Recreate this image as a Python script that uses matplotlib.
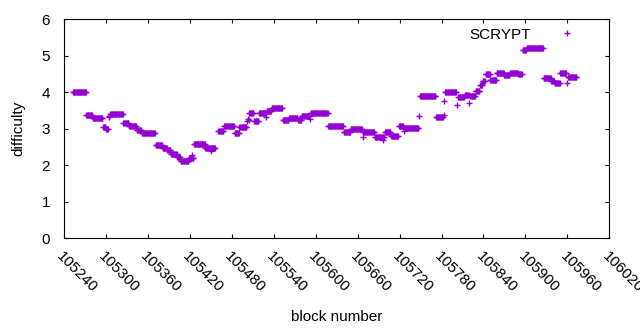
import numpy as np
import matplotlib
matplotlib.use("Agg")
import matplotlib.pyplot as plt

# Runs of consecutive blocks sharing one difficulty value
run_start = [105253, 105272, 105281, 105296, 105300, 105306, 105325, 105333, 105344, 105351,
             105371, 105381, 105388, 105393, 105402, 105407, 105419, 105426, 105442, 105461,
             105469, 105484, 105491, 105505, 105512, 105519, 105530, 105537, 105553, 105562,
             105575, 105580, 105593, 105618, 105640, 105650, 105668, 105685, 105699, 105708,
             105719, 105726, 105749, 105772, 105785, 105804, 105813, 105821, 105829, 105835,
             105839, 105843, 105850, 105859, 105870, 105878, 105890, 105896, 105902, 105927,
             105937, 105942, 105950, 105961]
run_end = [105271, 105280, 105295, 105299, 105303, 105324, 105332, 105343, 105350, 105370,
           105380, 105387, 105392, 105401, 105406, 105418, 105425, 105441, 105456, 105468,
           105483, 105490, 105501, 105511, 105518, 105528, 105536, 105552, 105561, 105574,
           105579, 105591, 105617, 105639, 105649, 105666, 105684, 105698, 105707, 105718,
           105725, 105747, 105771, 105782, 105801, 105812, 105819, 105828, 105834, 105838,
           105842, 105849, 105858, 105869, 105877, 105889, 105895, 105901, 105925, 105936,
           105941, 105949, 105958, 105973]
run_difficulty = [4.00, 3.37, 3.29, 3.06, 2.99, 3.40, 3.15, 3.07, 2.98, 2.88,
                  2.56, 2.48, 2.42, 2.30, 2.22, 2.12, 2.21, 2.58, 2.47, 2.93,
                  3.07, 2.88, 3.04, 3.42, 3.22, 3.42, 3.50, 3.56, 3.23, 3.29,
                  3.25, 3.35, 3.42, 3.07, 2.92, 2.99, 2.91, 2.78, 2.90, 2.80,
                  3.07, 3.01, 3.91, 3.33, 4.00, 3.86, 3.93, 3.89, 4.04, 4.21,
                  4.31, 4.49, 4.33, 4.54, 4.47, 4.52, 4.49, 5.16, 5.21, 4.40,
                  4.32, 4.26, 4.52, 4.41]

# Isolated blocks
single_block = [105304, 105305, 105420, 105423, 105450, 105502, 105503, 105504, 105529,
                105592, 105667, 105697, 105727, 105748, 105783, 105784, 105802, 105820,
                105926, 105960]
single_difficulty = [3.31, 3.35, 2.16, 2.27, 2.40, 3.20, 3.26, 3.24, 3.31,
                     3.27, 2.78, 2.68, 2.95, 3.34, 3.37, 3.75, 3.64, 3.72,
                     4.38, 4.26]

x_ticks = list(range(105240, 106021, 60))
y_ticks = [0, 1, 2, 3, 4, 5, 6]

blocks = []
diffs = []
for s, e, d in zip(run_start, run_end, run_difficulty):
    for b in range(s, e + 1):
        blocks.append(b)
        diffs.append(d)
blocks += single_block
diffs += single_difficulty

plt.rcParams['font.family'] = ['Liberation Sans', 'DejaVu Sans']
purple = '#9400D3'
fs = 11

fig = plt.figure(figsize=(6.4, 3.3), dpi=100)
ax = fig.add_axes([0.1, 0.278, 0.852, 0.6635])

ax.plot(blocks, diffs, linestyle='none', marker='+', markersize=5, markeredgewidth=1.0,
        color=purple, label='SCRYPT')

ax.set_xlim(105240, 106020)
ax.set_ylim(0, 6)
ax.set_xticks(x_ticks)
ax.set_xticklabels([str(t) for t in x_ticks], rotation=-45, ha='left', va='top',
                   rotation_mode='anchor')
ax.set_yticks(y_ticks)
ax.tick_params(direction='in', length=3, width=0.8, top=True, right=True,
               labelsize=fs, colors='black')
ax.tick_params(axis='y', pad=10)
ax.tick_params(axis='x', pad=8)
for sp in ax.spines.values():
    sp.set_linewidth(0.8)

ax.set_xlabel('block number', fontsize=fs, labelpad=10.5)
ax.set_ylabel('difficulty', fontsize=fs, labelpad=12)

ax.legend(loc='upper right', bbox_to_anchor=(0.965, 1.01), markerfirst=False, frameon=False,
          fontsize=fs, handlelength=1.6, handletextpad=1.6, borderaxespad=0.3)

fig.savefig('out.png', dpi=100)
